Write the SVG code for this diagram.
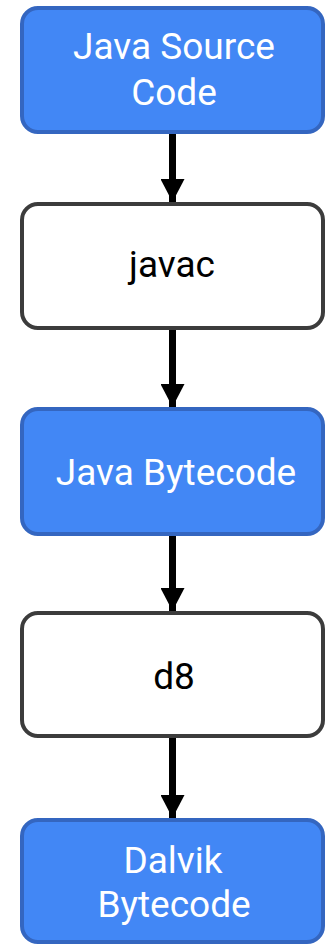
<svg xmlns="http://www.w3.org/2000/svg" width="326" height="944" viewBox="0 0 326 944">
<style>
.blue{fill:#4287f5;stroke:#3466c0;stroke-width:4}
.white{fill:#ffffff;stroke:#3c3c3c;stroke-width:4}
text{font-family:Roboto,"Liberation Sans",sans-serif;font-size:37px;text-anchor:middle}
.tw{fill:#ffffff}
.tb{fill:#000000}
.edge{stroke:#000;stroke-width:7;fill:none}
</style>
<defs>
<marker id="ah" markerUnits="userSpaceOnUse" markerWidth="24" markerHeight="24" refX="23" refY="12" orient="auto">
<path d="M0,0 L23,12 L0,24 Z" fill="#000"/>
</marker>
</defs>
<g id="connectors">
<path class="edge" d="M172.5,134 V202" marker-end="url(#ah)"/>
<path class="edge" d="M172.5,330 V407" marker-end="url(#ah)"/>
<path class="edge" d="M172.5,536 V611" marker-end="url(#ah)"/>
<path class="edge" d="M172.5,738 V818" marker-end="url(#ah)"/>
</g>
<g id="java-source">
<rect class="blue" x="22" y="8" width="301" height="124" rx="16"/>
<text class="tw" x="174" y="59">Java Source</text>
<text class="tw" x="174" y="105">Code</text>
</g>
<g id="javac">
<rect class="white" x="22" y="204" width="301" height="124" rx="16"/>
<text class="tb" x="172" y="277">javac</text>
</g>
<g id="java-bytecode">
<rect class="blue" x="22" y="409" width="301" height="125" rx="16"/>
<text class="tw" x="176" y="485">Java Bytecode</text>
</g>
<g id="d8">
<rect class="white" x="22" y="613" width="301" height="123" rx="16"/>
<text class="tb" x="174" y="689">d8</text>
</g>
<g id="dalvik-bytecode">
<rect class="blue" x="22" y="820" width="301" height="122" rx="16"/>
<text class="tw" x="173" y="873">Dalvik</text>
<text class="tw" x="174" y="917">Bytecode</text>
</g>
</svg>
